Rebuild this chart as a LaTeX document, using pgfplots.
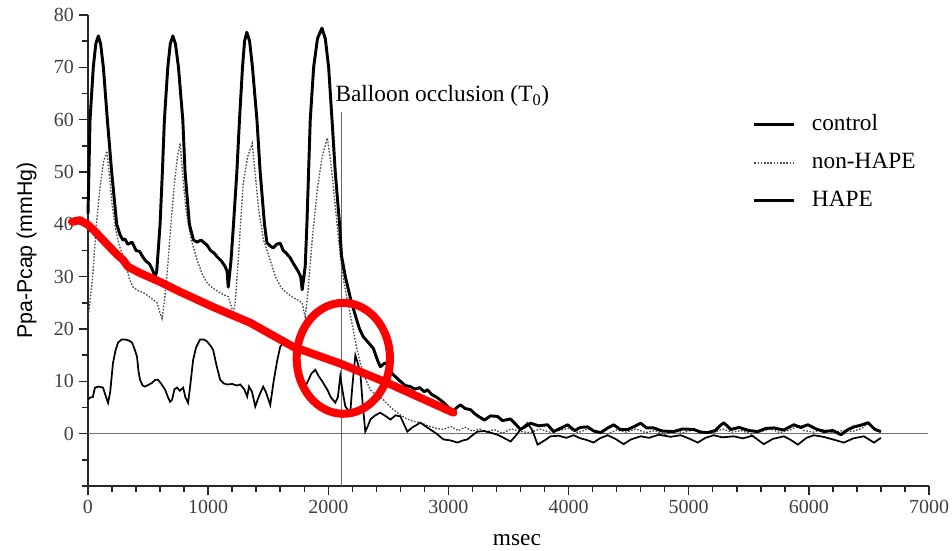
\documentclass[border=0pt]{standalone}
\usepackage{pgfplots}
\pgfplotsset{compat=1.18}
\usepackage{fontspec}
\setmainfont{Liberation Serif}
\newfontfamily\sansf{Liberation Sans}

\begin{document}
\begin{tikzpicture}
\useasboundingbox (-66pt,-48pt) rectangle (648pt,364.5pt);
\begin{axis}[
    scale only axis,
    width=630.75pt, height=353.25pt,
    xmin=0, xmax=7000, ymin=-10, ymax=80,
    axis x line=bottom, axis y line=left,
    axis line style={-, line width=1.3pt, black!85},
    tick align=outside,
    xtick={0,1000,...,7000},
    minor x tick num=4,
    ytick={0,10,...,80},
    minor ytick={-10,-5,...,75},
    major tick length=7pt, minor tick length=4.5pt,
    every tick/.style={black!85, line width=1.1pt},
    /pgf/number format/assume math mode=true,
    /pgf/number format/1000 sep={},
    tick label style={font=\fontsize{15}{15}\selectfont, text=black!75},
    xlabel={msec},
    ylabel={Ppa-Pcap (mmHg)},
    xlabel style={at={(axis description cs:0.51,0)}, anchor=center, yshift=-40.5pt,
        font=\fontsize{17.5}{17.5}\selectfont},
    ylabel style={at={(axis description cs:-0.073,0.5)}, anchor=center,
        font=\sansf\fontsize{16}{16}\selectfont},
    clip=false,
    legend style={at={(axis cs:5533,61.6)}, anchor=north west, draw=none, fill=none,
        inner sep=0pt, column sep=10pt, row sep=8.5pt,
        font=\fontsize{17.5}{17.5}\selectfont,
        nodes={text height=12pt, text depth=4pt, inner sep=2pt}},
    legend cell align=left,
    legend image code/.code={\draw[#1] (0pt,0pt) -- (30pt,0pt);},
]
\addlegendimage{black, line width=2.2pt}
\addlegendentry{control}
\addlegendimage{black!70, line width=1pt, dash pattern=on 1.2pt off 1.2pt}
\addlegendentry{non-HAPE}
\addlegendimage{black, line width=2.2pt}
\addlegendentry{HAPE}

% zero line and occlusion marker
\addplot[forget plot, black!55, line width=0.7pt] coordinates {(0,0)(6990,0)};
\addplot[forget plot, black!60, line width=0.9pt] coordinates {(2110,-10)(2110,61.5)};

% non-HAPE
\addplot[forget plot, black!70, line width=1pt, dash pattern=on 1.2pt off 1.2pt] coordinates {
(0,22)(20,26)(42,31)(70,40)(100,47)(130,52)(158,54)(175,50)(200,44)(230,39)(260,36)(290,34)
(325,31.5)(345,29.5)(375,28)(420,27.3)(458,27)(520,26)(575,25)(600,23)(617,22)(635,25)(660,31)
(690,40)(720,48)(745,53)(767,55.5)(790,49)(810,44)(825,41.4)(860,37)(908,33.2)(950,30.5)
(992,28.8)(1040,27.8)(1100,26.9)(1135,26.5)(1167,26.2)(1190,24.5)(1208,23)(1225,25)(1250,33)
(1292,47.9)(1330,53)(1367,55.5)(1390,50)(1420,43)(1460,37)(1517,33.2)(1560,30)(1600,28.2)
(1625,27.5)(1660,26.8)(1708,26)(1750,25.5)(1783,25)(1800,23)(1808,22.3)(1830,27)(1870,38)
(1910,47)(1950,53)(1992,56.5)(2020,52)(2060,43)(2100,34)(2130,29)(2158,25.6)(2185,22.5)
(2208,19.8)(2240,16)(2267,13.5)(2300,11)(2350,8.4)(2400,7.3)(2458,6.5)(2520,5)(2575,4)
(2640,3)(2700,2.4)(2767,2.1)(2830,1.5)(2900,1)(2960,0.8)(3020,1.4)(3080,0.6)(3140,1.2)
(3200,0.5)(3260,0.9)(3320,0.3)(3380,0.8)(3450,0.1)(3520,0.9)(3600,0.4)(3680,0.2)(3760,0.9)
(3840,0.3)(3920,0.6)(4000,1)(4080,0.2)(4160,0.9)(4240,0.5)(4320,-0.1)(4400,0.7)(4480,0.3)
(4560,0.9)(4640,0.2)(4720,0.6)(4800,-0.2)(4880,0.5)(4960,0.2)(5040,0.8)(5120,0.4)(5200,0.1)
(5280,0.9)(5360,0.3)(5440,0.6)(5520,-0.1)(5600,0.4)(5680,0.9)(5760,0.2)(5840,0.7)(5920,1.5)
(5960,0.6)(6040,0.3)(6120,0.8)(6200,0.2)(6280,0.6)(6360,0.4)(6440,1)(6500,2.2)(6540,1)(6600,0.5)
};

% HAPE
\addplot[forget plot, black, line width=1.3pt] coordinates {
(0,6.5)(17,6.9)(40,7)(58,8.8)(90,9)(125,8.8)(150,7)(167,5.9)(185,8)(208,13.5)(230,16)(250,17.4)
(280,18)(308,18)(340,17.8)(367,17.4)(390,16)(408,14.7)(420,12)(433,10.3)(455,9.2)(475,9)
(500,9.3)(533,9.7)(560,10.3)(583,10.3)(610,9.5)(642,8.4)(665,7)(683,6.1)(700,6.5)(720,8.5)
(742,8.8)(765,8.2)(792,8.8)(810,7)(833,5.9)(850,9)(875,14.1)(900,16.5)(933,18)(965,18)
(992,17.6)(1020,16.8)(1042,16)(1070,13)(1100,10.3)(1130,9.6)(1158,9.4)(1200,9.5)(1240,9.2)
(1267,9.4)(1300,8.5)(1325,7.1)(1340,9)(1365,8)(1392,5.2)(1420,7)(1458,9)(1480,8)(1517,5.5)
(1545,10)(1575,14)(1600,16.6)(1630,17.5)(1658,17.6)(1685,17.2)(1708,16.6)(1740,14)(1767,11.6)
(1790,10)(1808,9)(1830,10)(1860,11.5)(1892,12.2)(1920,11)(1950,10)(1992,8.4)(2020,7)(2058,5.9)
(2080,7)(2100,11)(2120,8)(2142,5.2)(2165,4.5)(2183,4)(2200,9)(2225,15)(2245,13.5)(2267,11.6)
(2285,6)(2308,0.4)(2330,1.5)(2350,2.7)(2390,3.5)(2433,4)(2475,3.4)(2517,2.7)(2560,3.5)
(2600,3.3)(2630,1.8)(2658,0.4)(2700,1.2)(2767,2.1)(2810,1.4)(2850,0.8)(2900,0)(2958,-1.1)
(3020,-1.3)(3075,-1.7)(3120,-1.3)(3158,-1.1)(3200,-0.3)(3242,0.4)(3300,0.5)(3350,0.2)
(3408,-0.2)(3460,-0.8)(3517,-1.5)(3560,-0.4)(3600,0.8)(3658,2)(3700,0.6)(3742,-2.1)(3800,-1.3)
(3850,-0.5)(3920,-0.4)(3980,-0.8)(4042,-0.3)(4100,-0.9)(4150,-1.2)(4208,-1.7)(4260,-0.9)
(4325,-0.3)(4390,-1)(4458,-2)(4520,-1.1)(4600,-0.5)(4670,-0.8)(4750,-0.2)(4850,-0.6)
(4933,-0.3)(5000,-0.9)(5075,-1.7)(5140,-0.8)(5208,-0.3)(5280,-0.7)(5375,-0.5)(5450,-0.9)
(5530,-0.4)(5625,-2)(5700,-1)(5792,-0.5)(5850,-1.2)(5908,-2.1)(5980,-0.8)(6042,-0.3)
(6120,-0.6)(6200,-1.1)(6292,-1.7)(6370,-0.9)(6458,-0.5)(6542,-1.7)(6600,-0.8)
};

% control
\addplot[forget plot, black, line width=2.2pt, line join=round] coordinates {
(0,42)(17,60)(44,70)(65,74.5)(86,76)(105,74.5)(128,70)(161,60)(197,50)(239,40)(267,38)
(290,37)(308,37.2)(330,36.2)(367,36.6)(400,35)(430,34.8)(450,34)(480,33)(510,32.5)(533,31.5)
(560,30)(572,31)(600,40)(619,50)(636,60)(664,70)(685,74.5)(706,76)(728,74.5)(753,70)(789,60)
(808,50)(844,40)(878,37)(908,36.6)(940,37)(992,36)(1020,35)(1050,34.5)(1075,33.8)(1110,33)
(1140,32)(1158,31)(1167,28)(1190,33)(1211,40)(1239,50)(1261,60)(1286,70)(1303,75)(1322,76.7)
(1345,75)(1369,70)(1406,60)(1433,50)(1469,40)(1489,36.5)(1520,35.8)(1542,35.5)(1570,36.2)
(1600,36.4)(1625,35)(1650,34.5)(1683,33.6)(1710,32.5)(1750,31)(1770,30)(1783,27.5)(1808,32)
(1822,40)(1836,50)(1850,60)(1878,70)(1910,75.5)(1947,77.5)(1975,75.5)(2003,70)(2031,60)
(2058,50)(2094,40)(2110,34)(2142,30)(2183,26)(2220,23)
(2260,20)(2292,18.5)(2330,17.5)(2375,16.3)(2410,14)(2433,12.8)(2470,13.5)(2500,13.2)
(2530,11.5)(2558,10.9)(2600,10)(2640,9.2)(2683,9)(2720,8.5)(2760,8.8)(2800,8)(2825,8.4)
(2860,7.5)(2900,7)(2958,6)(3000,5)(3033,4)(3070,5)(3100,5.5)(3140,4.8)(3183,4.6)(3220,3.8)
(3250,3.3)(3300,2.6)(3350,3.4)(3408,3.3)(3450,2.5)(3517,2.8)(3560,1.8)(3600,0.8)(3650,1.5)
(3683,2)(3750,1.5)(3825,1.7)(3875,0.4)(3930,1)(3992,1.7)(4050,0.6)(4100,1.2)(4158,1.3)
(4210,0.5)(4267,0.2)(4320,1)(4375,1.7)(4430,0.8)(4492,0.8)(4550,1.4)(4600,2)(4650,1.1)
(4708,1.1)(4780,0.5)(4875,0.4)(4950,0.9)(5042,0.8)(5100,0.3)(5158,0.2)(5220,0.6)(5260,1.5)
(5292,2.1)(5350,0.8)(5420,1.2)(5500,0.6)(5575,0.4)(5640,1)(5708,1.1)(5790,0.7)(5875,1.7)
(5930,1.2)(5992,1.7)(6060,0.9)(6125,0.4)(6200,0.6)(6267,-0.2)(6320,0.7)(6375,1.3)(6430,1.6)
(6492,2.1)(6550,0.8)(6600,0.4)
};

% red hand-drawn annotation
\addplot[forget plot, red, line width=6pt, line cap=round, line join=round] coordinates {
(-133,40.5)(-67,40.8)(0,39.9)(60,38.6)(125,37)(242,34.2)(292,33.2)(333,31.9)(433,30.7)
(600,29)(767,27.1)(1042,24.2)(1350,21.2)(1708,16.6)(2100,13.4)(2492,9.7)(3042,4.0)
};
\draw[red, line width=6pt] (axis cs:2125,14.4) ellipse [x radius=35pt, y radius=41.6pt];

\node[anchor=base west, inner sep=0pt, font=\fontsize{17.5}{17.5}\selectfont]
    at (axis cs:2058,63.4) {Balloon occlusion (T\textsubscript{0})};
\end{axis}
\end{tikzpicture}
\end{document}
